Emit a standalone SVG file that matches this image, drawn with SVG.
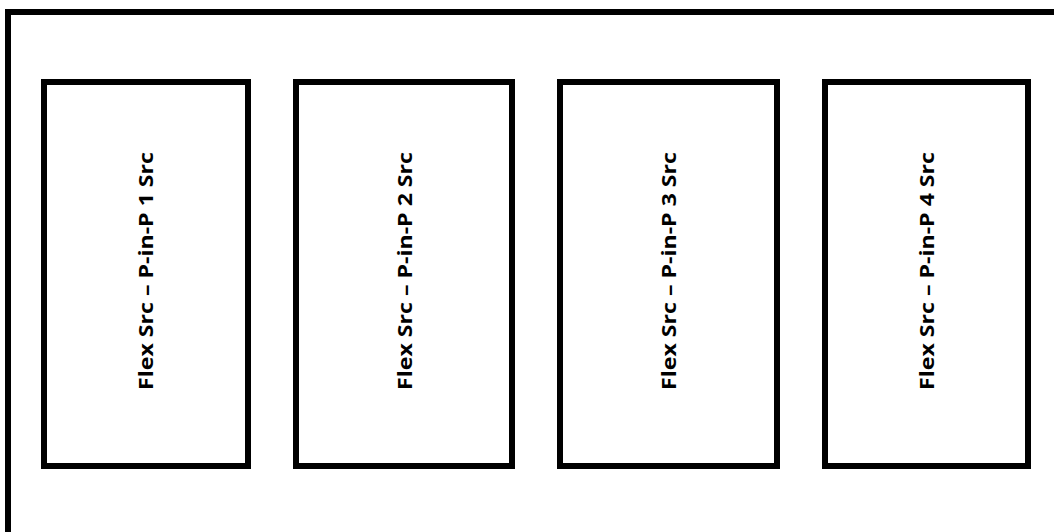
<svg xmlns="http://www.w3.org/2000/svg" width="1054" height="532" viewBox="0 0 1054 532">
  <style>
    .frame { fill: #ffffff; stroke: #000000; stroke-width: 6; }
    .box { fill: #ffffff; stroke: #000000; stroke-width: 6; }
    .lbl { font-family: "Open Sans", "Liberation Sans", sans-serif; font-weight: bold; font-size: 19px; fill: #000000; text-anchor: middle; }
  </style>
  <rect width="1054" height="532" fill="#ffffff"/>
  <rect class="frame" x="8" y="12" width="1080" height="560"/>
  <g id="node1">
    <rect class="box" x="44" y="82" width="204" height="384"/>
    <text class="lbl" transform="translate(153,271) rotate(-90)" x="0" y="0" textLength="238" lengthAdjust="spacingAndGlyphs">Flex Src – P-in-P 1 Src</text>
  </g>
  <g id="node2">
    <rect class="box" x="296" y="82" width="216" height="384"/>
    <text class="lbl" transform="translate(412,271) rotate(-90)" x="0" y="0" textLength="238" lengthAdjust="spacingAndGlyphs">Flex Src – P-in-P 2 Src</text>
  </g>
  <g id="node3">
    <rect class="box" x="560" y="82" width="217" height="384"/>
    <text class="lbl" transform="translate(676,271) rotate(-90)" x="0" y="0" textLength="238" lengthAdjust="spacingAndGlyphs">Flex Src – P-in-P 3 Src</text>
  </g>
  <g id="node4">
    <rect class="box" x="825" y="82" width="203" height="384"/>
    <text class="lbl" transform="translate(934,271) rotate(-90)" x="0" y="0" textLength="238" lengthAdjust="spacingAndGlyphs">Flex Src – P-in-P 4 Src</text>
  </g>
  <g id="connectors"></g>
</svg>
